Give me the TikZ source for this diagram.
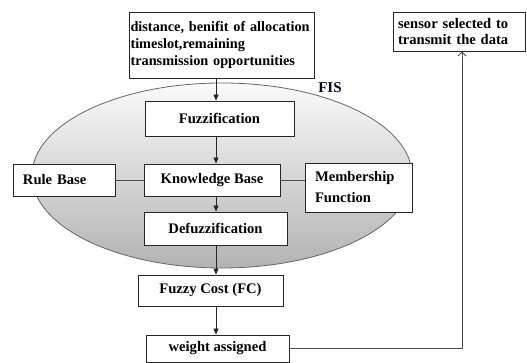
\documentclass[tikz,border=0pt]{standalone}
\usepackage{fontspec}
\setmainfont{Liberation Serif}
\usetikzlibrary{arrows.meta,shadings}
\begin{document}
\begin{tikzpicture}[x=1pt,y=-1pt,
  box/.style={draw=black!85,line width=0.9pt,fill=white,inner sep=0pt,
    font=\fontsize{14.6}{17}\selectfont\bfseries},
  lbox/.style={box,align=left},
  arr/.style={draw=black!85,line width=0.8pt,-{Triangle[length=6pt,width=5pt]}},
  conn/.style={draw=black!70,line width=0.8pt}]
\useasboundingbox (0,0) rectangle (527,363);
\fill[white] (0,0) rectangle (527,363);
% FIS ellipse
\shade[top color=gray!4,bottom color=gray!60,draw=gray!80!black,line width=0.8pt]
  (222,175.5) ellipse [x radius=190,y radius=92.5];
\node[font=\fontsize{15}{17}\selectfont\bfseries,text=black!85!blue] (fis) at (330,88) {FIS};
% boxes
\node[lbox,minimum width=185pt,minimum height=66pt,text width=182pt,
  font=\fontsize{14.3}{17}\selectfont\bfseries] (inp) at (221.5,45)
  {\hyphenpenalty=10000\relax distance, benifit of allocation\\timeslot,remaining\\transmission opportunities};
\node[lbox,minimum width=132pt,minimum height=39pt,text width=122pt,
  font=\fontsize{14.6}{16}\selectfont\bfseries] (sens) at (459,31.5)
  {sensor selected to\\transmit the data};
\node[box,minimum width=149pt,minimum height=35pt] (fuzz) at (219.5,118.5) {Fuzzification};
\node[box,minimum width=136pt,minimum height=32pt] (kb) at (212,180) {Knowledge Base};
\node[lbox,minimum width=102pt,minimum height=32pt,text width=82pt] (rb) at (64,180) {Rule Base};
\node[lbox,minimum width=107pt,minimum height=49pt,text width=87pt,
  font=\fontsize{14.6}{21}\selectfont\bfseries] (mf) at (358.5,187.5) {Membership\\Function};
\node[box,minimum width=143pt,minimum height=33pt] (def) at (215.5,228.5) {Defuzzification};
\node[box,minimum width=145pt,minimum height=31pt] (fc) at (210.5,290.5) {Fuzzy Cost (FC)};
\node[box,minimum width=143pt,minimum height=27pt] (wa) at (217.5,348.5) {weight assigned};
% connectors
\coordinate (ax) at (216,0);
\coordinate (bx) at (462,0);
\draw[arr] (inp.south -| ax) -- (fuzz.north -| ax);
\draw[arr] (fuzz.south -| ax) -- (kb.north -| ax);
\draw[arr] (kb.south -| ax) -- (def.north -| ax);
\draw[arr] (def.south -| ax) -- (fc.north -| ax);
\draw[arr] (fc.south -| ax) -- (wa.north -| ax);
\draw[conn] (rb.east) -- (kb.west);
\draw[conn] (kb.east) -- (kb.east -| mf.west);
\draw[draw=black!70,line width=0.9pt,-{Straight Barb[length=4pt,width=8pt]}]
  (wa.east) -| (sens.south -| bx);
\end{tikzpicture}
\end{document}
